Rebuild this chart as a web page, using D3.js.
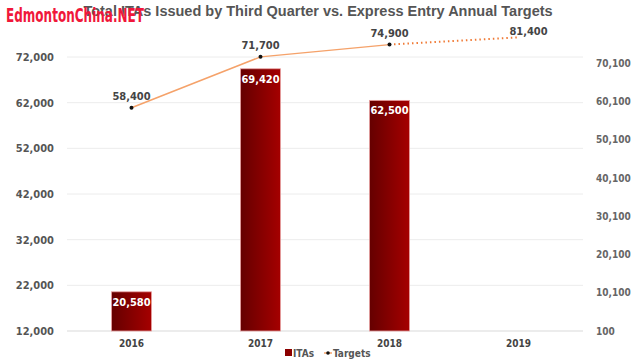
<html>
<script src="https://d3js.org/d3.v7.min.js"></script>
<body style="margin:0">
<style>
  body { font-family: "DejaVu Sans Condensed", "Liberation Sans Narrow", sans-serif; background: #fff; }
</style>
<svg width="640" height="360"></svg>
<script>
var years = ["2016", "2017", "2018", "2019"];
var itas = [20580, 69420, 62500];           // bars, left axis
var targets = [58400, 71700, 74900, 76800]; // line, right axis (2019 point as drawn)
var targetLabels = ["58,400", "71,700", "74,900", "81,400"];
var leftTicks = [12000, 22000, 32000, 42000, 52000, 62000, 72000];
var rightTicks = [100, 10100, 20100, 30100, 40100, 50100, 60100, 70100];

var svg = d3.select("svg");
var plotLeft = 67, plotRight = 583, plotTop = 57, plotBottom = 331;

var x = d3.scaleBand().domain(years).range([plotLeft, plotRight]).paddingInner(0.69).paddingOuter(0.345);
var y = d3.scaleLinear().domain([12000, 72000]).range([plotBottom, plotTop]);
var y2 = d3.scaleLinear().domain([100, 70100]).range([plotBottom, 63]);

var defs = svg.append("defs");
var grad = defs.append("linearGradient").attr("id", "barGrad");
grad.append("stop").attr("offset", "0%").attr("stop-color", "#650000");
grad.append("stop").attr("offset", "100%").attr("stop-color", "#a50000");

// grid
svg.append("g").selectAll("line").data(leftTicks).enter().append("line")
    .attr("x1", plotLeft).attr("x2", plotRight)
    .attr("y1", function(d) { return y(d); }).attr("y2", function(d) { return y(d); })
    .attr("stroke", function(d) { return d == 12000 ? "#d9d9d9" : "#ececec"; })
    .attr("stroke-width", 1);

// left axis
svg.append("g")
    .attr("transform", "translate(" + (plotLeft - 10) + ",0)")
    .call(d3.axisLeft(y).tickValues(leftTicks).tickSize(0).tickFormat(d3.format(",")))
    .call(function(g) { g.select(".domain").remove(); })
    .selectAll("text")
    .attr("fill", "#555").attr("font-size", 11).attr("font-weight", "bold")
    .attr("font-family", "DejaVu Sans Condensed, sans-serif");

// right axis
svg.append("g")
    .attr("transform", "translate(" + (plotRight + 10) + ",0)")
    .call(d3.axisRight(y2).tickValues(rightTicks).tickSize(0).tickFormat(d3.format(",")))
    .call(function(g) { g.select(".domain").remove(); })
    .selectAll("text")
    .attr("fill", "#666").attr("font-size", 10).attr("font-weight", "bold")
    .attr("font-family", "DejaVu Sans Condensed, sans-serif");

// bottom axis
svg.append("g")
    .attr("transform", "translate(0," + (plotBottom + 6) + ")")
    .call(d3.axisBottom(x).tickSize(0))
    .call(function(g) { g.select(".domain").remove(); })
    .selectAll("text")
    .attr("fill", "#444").attr("font-size", 10).attr("font-weight", "bold")
    .attr("font-family", "DejaVu Sans Condensed, sans-serif");

// bars
svg.append("g").selectAll("rect").data(itas).enter().append("rect")
    .attr("x", function(d, i) { return x(years[i]); })
    .attr("y", function(d) { return y(d); })
    .attr("width", x.bandwidth())
    .attr("height", function(d) { return plotBottom - y(d); })
    .attr("fill", "url(#barGrad)")
    .attr("stroke", "#e8a0a0").attr("stroke-width", 0.8);

svg.append("g").selectAll("text").data(itas).enter().append("text")
    .attr("x", function(d, i) { return x(years[i]) + x.bandwidth() / 2; })
    .attr("y", function(d) { return y(d) + 14; })
    .attr("text-anchor", "middle")
    .attr("fill", "#fff").attr("font-size", 11).attr("font-weight", "bold")
    .text(function(d) { return d3.format(",")(d); });

// target line
var cx = function(i) { return x(years[i]) + x.bandwidth() / 2; };
var line = d3.line().x(function(d, i) { return cx(i); }).y(function(d) { return y2(d); });

svg.append("path").datum(targets.slice(0, 3))
    .attr("d", line).attr("fill", "none")
    .attr("stroke", "#f5a26a").attr("stroke-width", 1.5);

svg.append("path").datum(targets.slice(2))
    .attr("d", d3.line().x(function(d, i) { return cx(i + 2); }).y(function(d) { return y2(d); }))
    .attr("fill", "none").attr("stroke", "#f07a35").attr("stroke-width", 2)
    .attr("stroke-dasharray", "1.5,3");

svg.append("g").selectAll("circle").data(targets.slice(0, 3)).enter().append("circle")
    .attr("cx", function(d, i) { return cx(i); })
    .attr("cy", function(d) { return y2(d); })
    .attr("r", 2).attr("fill", "#111");

svg.append("g").selectAll("text").data(targets).enter().append("text")
    .attr("x", function(d, i) { return cx(i) + (i == 3 ? 10 : 0); })
    .attr("y", function(d, i) { return y2(d) - (i == 3 ? 2 : 8); })
    .attr("text-anchor", "middle")
    .attr("fill", "#444").attr("font-size", 11).attr("font-weight", "bold")
    .text(function(d, i) { return targetLabels[i]; });

// title
svg.append("text")
    .attr("x", 318).attr("y", 16)
    .attr("text-anchor", "middle")
    .attr("font-family", "Liberation Sans, Arial, sans-serif")
    .attr("font-size", 14.5).attr("font-weight", "bold").attr("fill", "#555")
    .text("Total ITAs Issued by Third Quarter vs. Express Entry Annual Targets");

// watermark
svg.append("text")
    .attr("x", 6).attr("y", 22)
    .attr("font-family", "DejaVu Sans Condensed, sans-serif")
    .attr("font-size", 19).attr("font-weight", "bold").attr("fill", "#f0173a")
    .attr("textLength", 138).attr("lengthAdjust", "spacingAndGlyphs")
    .text("EdmontonChina.NET");

// legend
var lg = svg.append("g").attr("transform", "translate(285,353)");
lg.append("rect").attr("x", 0).attr("y", -4).attr("width", 7).attr("height", 7).attr("fill", "#8b0000");
lg.append("text").attr("x", 8).attr("y", 4).attr("font-size", 10).attr("font-weight", "bold")
    .attr("fill", "#555").text("ITAs");
lg.append("line").attr("x1", 39).attr("x2", 47).attr("y1", 0).attr("y2", 0)
    .attr("stroke", "#f5a26a").attr("stroke-width", 1.5);
lg.append("circle").attr("cx", 43).attr("cy", 0).attr("r", 1.8).attr("fill", "#111");
lg.append("text").attr("x", 48).attr("y", 4).attr("font-size", 10).attr("font-weight", "bold")
    .attr("fill", "#555").text("Targets");
</script>
</body>
</html>
